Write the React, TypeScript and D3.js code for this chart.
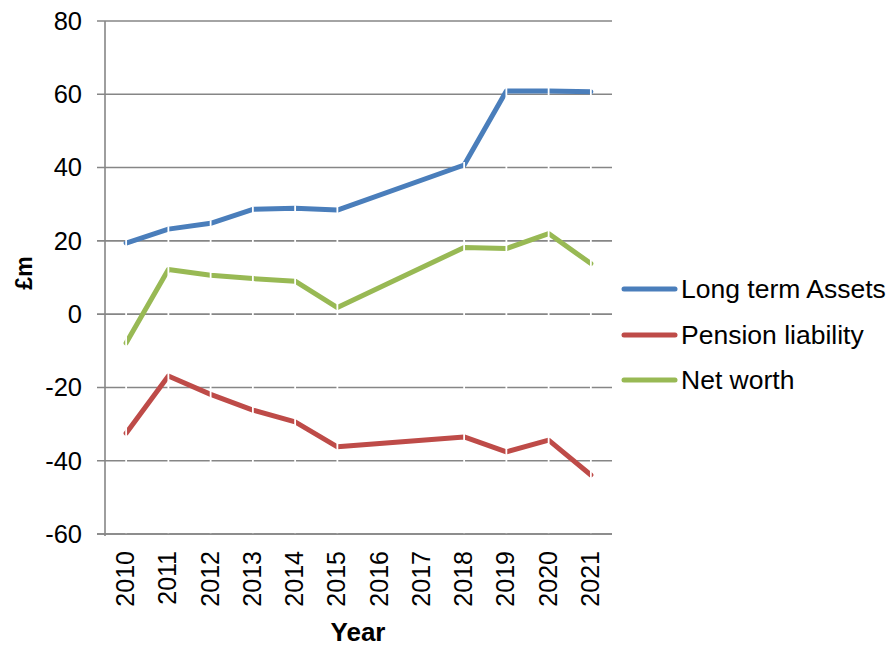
import { useEffect, useRef } from 'react';
import * as d3 from 'd3';

const years = ['2010', '2011', '2012', '2013', '2014', '2015', '2016', '2017', '2018', '2019', '2020', '2021'];
// 2016 and 2017 have no values; the lines run straight across them
const longTermAssets = [19.4, 23.2, 24.8, 28.6, 28.9, 28.4, null, null, 40.7, 60.9, 60.9, 60.7];
const pensionLiability = [-32.5, -16.9, -21.9, -26.2, -29.4, -36.2, null, null, -33.5, -37.6, -34.4, -43.9];
const netWorth = [-7.9, 12.2, 10.6, 9.7, 9.0, 1.8, null, null, 18.2, 17.9, 22.0, 13.8];
const yTicks = [80, 60, 40, 20, 0, -20, -40, -60];

const seriesList = [
  { name: 'Long term Assets', values: longTermAssets, color: '#4a7ebb' },
  { name: 'Pension liability', values: pensionLiability, color: '#be4b48' },
  { name: 'Net worth', values: netWorth, color: '#98b954' },
];

type Pt = { year: string; value: number };

export default function App() {
  const ref = useRef<SVGSVGElement>(null);

  useEffect(() => {
    if (!ref.current) return;
    const W = 890, H = 648;
    const left = 105, right = 612, top = 21, bottom = 534;
    const font = '"Liberation Sans", Arial, sans-serif';

    const x = d3.scalePoint<string>().domain(years).range([left, right]).padding(0.5);
    const y = d3.scaleLinear().domain([-60, 80]).range([bottom, top]);

    const svg = d3.select(ref.current);
    svg.selectAll('*').remove();
    svg.attr('width', W).attr('height', H).attr('viewBox', `0 0 ${W} ${H}`);

    const grid = '#868686';

    // horizontal gridlines + y ticks
    svg.append('g')
      .selectAll('line')
      .data(yTicks)
      .enter()
      .append('line')
      .attr('x1', left - 8)
      .attr('x2', right)
      .attr('y1', d => y(d))
      .attr('y2', d => y(d))
      .attr('stroke', grid)
      .attr('stroke-width', 1.6);

    svg.append('g')
      .selectAll('text')
      .data(yTicks)
      .enter()
      .append('text')
      .attr('x', 82)
      .attr('y', d => y(d))
      .attr('dy', '0.35em')
      .attr('text-anchor', 'end')
      .attr('font-family', font)
      .attr('font-size', 25.5)
      .text(d => String(d));

    // series
    const line = d3.line<Pt>()
      .x(d => x(d.year)!)
      .y(d => y(d.value));

    seriesList.forEach(s => {
      const pts: Pt[] = years
        .map((yr, i) => ({ year: yr, value: s.values[i] as number }))
        .filter((_, i) => s.values[i] !== null);
      svg.append('path')
        .attr('d', line(pts)!)
        .attr('fill', 'none')
        .attr('stroke', s.color)
        .attr('stroke-width', 5)
        .attr('stroke-linejoin', 'round')
        .attr('stroke-linecap', 'round');
    });

    // white drop lines from highest point to the axis
    const drops = years
      .map((yr, i) => {
        const vals = seriesList.map(s => s.values[i]).filter((v): v is number => v !== null);
        return vals.length ? { year: yr, top: d3.max(vals)! } : null;
      })
      .filter((d): d is { year: string; top: number } => !!d);

    svg.append('g')
      .selectAll('line')
      .data(drops)
      .enter()
      .append('line')
      .attr('x1', d => x(d.year)!)
      .attr('x2', d => x(d.year)!)
      .attr('y1', d => y(d.top) - 3)
      .attr('y2', bottom)
      .attr('stroke', '#ffffff')
      .attr('stroke-width', 1.8);

    // axes lines
    svg.append('line')
      .attr('x1', left).attr('x2', left)
      .attr('y1', top).attr('y2', bottom + 2)
      .attr('stroke', grid).attr('stroke-width', 1.6);
    svg.append('line')
      .attr('x1', left - 8).attr('x2', right)
      .attr('y1', bottom).attr('y2', bottom)
      .attr('stroke', grid).attr('stroke-width', 1.6);

    // x labels (rotated)
    svg.append('g')
      .selectAll('text')
      .data(years)
      .enter()
      .append('text')
      .attr('transform', d => `translate(${x(d)! + 8},551) rotate(-90)`)
      .attr('text-anchor', 'end')
      .attr('font-family', font)
      .attr('font-size', 25)
      .text(d => d);

    // axis titles
    svg.append('text')
      .attr('x', 358)
      .attr('y', 641)
      .attr('text-anchor', 'middle')
      .attr('font-family', font)
      .attr('font-size', 26)
      .attr('font-weight', 'bold')
      .text('Year');

    svg.append('text')
      .attr('transform', 'translate(31.5,273) rotate(-90)')
      .attr('text-anchor', 'middle')
      .attr('font-family', font)
      .attr('font-size', 23)
      .attr('font-weight', 'bold')
      .text('£m');

    // legend
    const legendY = [289, 335, 380];
    const lg = svg.append('g')
      .selectAll('g')
      .data(seriesList)
      .enter()
      .append('g')
      .attr('transform', (_, i) => `translate(0,${legendY[i]})`);
    lg.append('line')
      .attr('x1', 624).attr('x2', 675)
      .attr('stroke', d => d.color)
      .attr('stroke-width', 5)
      .attr('stroke-linecap', 'round');
    lg.append('text')
      .attr('x', 681)
      .attr('dy', '0.35em')
      .attr('font-family', font)
      .attr('font-size', 26.5)
      .text(d => d.name);
  }, []);

  return (
    <svg
      ref={ref}
      style={{ position: 'absolute', left: 0, top: 0, display: 'block', background: '#fff' }}
    />
  );
}
